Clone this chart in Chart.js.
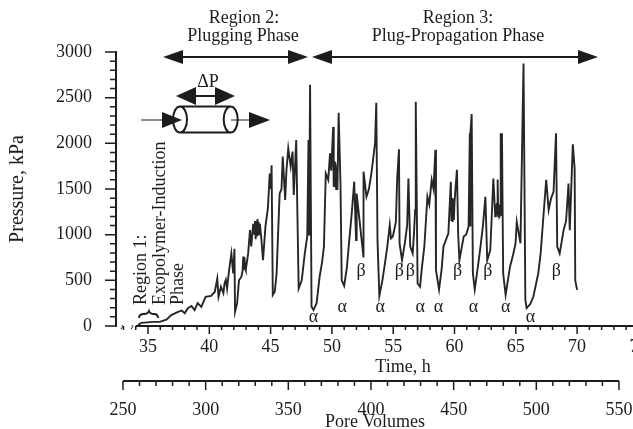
<!DOCTYPE html>
<html>
<head>
<meta charset="utf-8">
<title>Pressure vs time</title>
<script src="https://cdn.jsdelivr.net/npm/chart.js@4"></script>
<style>
html, body { margin: 0; background: #fff; overflow: hidden; width: 633px; height: 429px; }
canvas { display: block; }
</style>
</head>
<body>
<canvas id="grafico" width="660" height="429"></canvas>
<script>
const timeHours = [
  34.2,34.45,34.95,35.45,35.95,36.5,36.9,37.15,37.45,37.75,38.0,38.25,38.55,38.8,39.05,39.35,39.7,40.15,
  40.45,40.65,40.75,40.95,41.15,41.25,41.35,41.45,41.6,41.8,41.95,42.05,42.1,
  42.27,42.42,42.62,42.72,42.77,42.82,42.87,42.92,42.97,43.17,43.32,43.42,
  43.58,43.68,43.73,43.78,43.83,43.88,43.93,43.98,44.03,44.08,44.13,44.18,44.23,44.38,44.58,44.78,44.93,45.03,45.08,45.18,
  45.34,45.49,45.59,45.74,45.89,45.99,46.19,46.29,46.44,46.64,46.79,46.89,47.09,47.19,47.29,47.54,47.79,47.99,48.09,48.14,48.19,48.22,48.34,
  48.5,48.75,49.0,49.2,49.35,49.5,49.7,49.85,49.95,50.1,50.15,50.2,50.25,50.3,50.35,50.4,50.45,50.55,50.7,50.8,51.0,
  51.22,51.37,51.62,51.82,51.97,52.02,52.57,52.58,52.82,53.02,53.22,53.52,53.62,53.72,53.87,54.12,54.32,54.52,54.72,54.82,54.97,55.22,55.32,55.47,55.52,55.72,
  55.94,56.14,56.24,56.39,56.59,56.69,56.79,56.84,56.99,57.19,57.34,57.54,57.79,57.94,58.14,58.29,58.44,58.49,58.74,
  58.95,59.1,59.5,59.7,59.75,59.8,59.85,59.9,59.95,60.0,60.05,60.2,60.3,60.4,60.75,60.95,61.15,61.25,61.27,61.3,61.4,61.5,61.65,
  61.92,62.12,62.32,62.52,62.67,62.92,63.17,63.27,63.32,63.37,63.42,63.47,63.52,63.57,63.62,63.67,63.72,63.77,63.82,63.87,63.97,64.17,
  64.53,64.78,64.98,65.08,65.38,65.63,65.78,65.88,66.18,66.43,66.83,67.03,67.23,67.48,67.68,67.88,68.08,68.28,68.38,68.58,
  68.9,69.1,69.3,69.4,69.65,69.8,69.85,70.0
];
const pressureKpa = [
  10,35,40,45,45,70,120,135,155,170,140,195,220,175,250,210,320,330,
  375,520,320,430,360,470,505,410,595,795,575,845,155,
  250,500,540,610,760,620,750,630,610,795,1050,870,
  1120,1000,1150,950,1130,980,1170,1000,1140,1010,1120,1040,980,720,1090,1290,1670,1500,1760,340,
  375,575,940,1450,1500,1855,1380,1700,1945,1745,1910,1435,2035,1200,410,500,795,980,2035,1000,2035,2640,210,
  175,250,540,700,870,1670,1600,1890,1700,2180,1525,1800,1520,1780,1500,1750,1490,2335,1560,500,440,
  640,870,1235,1580,940,1450,760,1690,1415,1500,1670,2000,2445,940,330,500,680,870,1105,960,980,1140,1600,1935,905,720,
  900,1105,1615,870,795,1000,1270,2455,465,430,640,870,1415,1330,1600,1500,1930,610,400,
  620,870,1015,1580,1150,1400,1140,1380,1160,1350,1450,1710,1000,720,980,1000,1090,2110,1100,2110,2320,575,400,
  660,870,1100,1415,720,830,1615,1340,1200,1330,1210,1340,1605,1200,1330,1200,1215,2110,1300,2110,575,340,
  650,780,905,1140,905,2875,285,195,240,320,575,800,1160,1600,1270,1400,1470,2110,870,795,
  1050,1150,1560,1050,1990,1725,500,395
];
const alphaTimes = [48.5, 50.85, 53.95, 57.2, 58.7, 61.55, 64.17, 66.2];
const alphaPressures = [95, 210, 210, 210, 210, 210, 210, 95];
const betaTimes = [52.37, 55.5, 56.4, 60.25, 62.72, 68.3];
const betaPressures = [595, 595, 595, 595, 595, 595];
const timeLabels = [35, 40, 45, 50, 55, 60, 65, 70, 75];
const pressureLabels = [0, 500, 1000, 1500, 2000, 2500, 3000];
const poreLabels = [250, 300, 350, 400, 450, 500, 550];

const FONTE = '"Liberation Serif", "Times New Roman", serif';
const TINTA = '#1c1c1c';
const PX_POR_HORA = 12.26;
const PX_POR_PV = 1.6533;

// seta cheia, ponta em (xTip, y)
function ponta(ctx, xTip, y, dir, comp, alt) {
  ctx.beginPath();
  ctx.moveTo(xTip, y);
  ctx.lineTo(xTip - dir * comp, y - alt);
  ctx.lineTo(xTip - dir * comp, y + alt);
  ctx.closePath();
  ctx.fill();
}

function textoVertical(ctx, str, x, yBase) {
  ctx.save();
  ctx.translate(x, yBase);
  ctx.rotate(-Math.PI / 2);
  ctx.textAlign = 'left';
  ctx.fillText(str, 0, 0);
  ctx.restore();
}

const anotacoes = {
  id: 'anotacoes',
  // a largura final da area muda com os rotulos, entao fecha a escala aqui
  afterLayout(chart) {
    const { x, pv } = chart.scales;
    x.max = x.min + x.width / PX_POR_HORA;
    x.configure();
    pv.max = pv.min + pv.width / PX_POR_PV;
    pv.configure();
  },
  afterDraw(chart) {
    const { ctx, scales } = chart;
    const sx = scales.x, sy = scales.y, sp = scales.pv;
    ctx.save();
    ctx.strokeStyle = TINTA;
    ctx.fillStyle = TINTA;

    // eixos e marcas
    const y0 = sy.getPixelForValue(0);
    ctx.lineWidth = 2;
    ctx.beginPath();
    ctx.moveTo(sx.getPixelForValue(34), y0);
    ctx.lineTo(660, y0);
    ctx.moveTo(sp.getPixelForValue(250), sp.top + 5);
    ctx.lineTo(sp.getPixelForValue(550), sp.top + 5);
    ctx.stroke();

    ctx.lineWidth = 1.5;
    ctx.beginPath();
    sx.ticks.forEach(t => {
      const px = sx.getPixelForValue(t.value);
      ctx.moveTo(px, y0);
      ctx.lineTo(px, y0 + (timeLabels.includes(t.value) ? 8 : 4));
    });
    sp.ticks.forEach(t => {
      if (t.value < 250 || t.value > 550) return;
      const px = sp.getPixelForValue(t.value);
      ctx.moveTo(px, sp.top + 5);
      ctx.lineTo(px, sp.top + 5 + (poreLabels.includes(t.value) ? 9 : 5));
    });
    sy.ticks.forEach(t => {
      const py = sy.getPixelForValue(t.value);
      ctx.moveTo(sy.right, py);
      ctx.lineTo(sy.right - (pressureLabels.includes(t.value) ? 11 : 6), py);
    });
    ctx.stroke();

    // quebra do eixo
    ctx.lineWidth = 1;
    [122, 132].forEach(bx => {
      ctx.beginPath();
      ctx.moveTo(bx - 1, y0 + 3);
      ctx.quadraticCurveTo(bx + 2, y0, bx, y0 - 1);
      ctx.stroke();
    });

    ctx.font = '18px ' + FONTE;
    ctx.textAlign = 'center';
    ctx.textBaseline = 'middle';

    // titulos dos eixos de baixo
    ctx.fillText('Time, h', 403, 367);
    ctx.fillText('Pore Volumes', 375, 422);

    // regioes
    ctx.fillText('Region 2:', 244, 18);
    ctx.fillText('Plugging Phase', 243, 36);
    ctx.fillText('Region 3:', 458, 18);
    ctx.fillText('Plug-Propagation Phase', 458, 36);

    ctx.lineWidth = 2;
    ctx.beginPath();
    ctx.moveTo(175, 57); ctx.lineTo(296, 57);
    ctx.moveTo(324, 57); ctx.lineTo(586, 57);
    ctx.stroke();
    ponta(ctx, 163, 57, -1, 20, 7);
    ponta(ctx, 308, 57, 1, 20, 7);
    ponta(ctx, 312, 57, -1, 20, 7);
    ponta(ctx, 598, 57, 1, 20, 7);

    // desenho do testemunho
    ctx.fillText('ΔP', 208, 82);
    ctx.beginPath();
    ctx.moveTo(190, 96); ctx.lineTo(222, 96);
    ctx.stroke();
    ponta(ctx, 176, 96, -1, 20, 9);
    ponta(ctx, 235, 96, 1, 20, 9);

    ctx.lineWidth = 2;
    ctx.beginPath();
    ctx.ellipse(180, 119.5, 7, 13, 0, 0, Math.PI * 2);
    ctx.moveTo(237.7, 119.5);
    ctx.ellipse(230.7, 119.5, 7, 13, 0, 0, Math.PI * 2);
    ctx.moveTo(180, 106.5); ctx.lineTo(231, 106.5);
    ctx.moveTo(180, 132.5); ctx.lineTo(231, 132.5);
    ctx.stroke();
    ctx.lineWidth = 1;
    ctx.beginPath();
    ctx.moveTo(141, 120); ctx.lineTo(165, 120);
    ctx.moveTo(231, 120); ctx.lineTo(252, 120);
    ctx.stroke();
    ponta(ctx, 182, 120, 1, 20, 8);
    ponta(ctx, 270, 120, 1, 21, 8);

    // regiao 1 na vertical
    textoVertical(ctx, 'Region 1:', 141, 305);
    textoVertical(ctx, 'Exopolymer-Induction', 160, 305);
    textoVertical(ctx, 'Phase', 178, 305);

    // chave
    ctx.lineWidth = 1.8;
    ctx.beginPath();
    ctx.moveTo(139, 318);
    ctx.quadraticCurveTo(139, 314, 144, 314);
    ctx.quadraticCurveTo(148, 314, 149, 311);
    ctx.quadraticCurveTo(150, 314, 154, 314);
    ctx.quadraticCurveTo(158, 314, 158, 318);
    ctx.stroke();

    // alfa e beta
    alphaTimes.forEach((t, i) => {
      ctx.fillText('α', sx.getPixelForValue(t), sy.getPixelForValue(alphaPressures[i]));
    });
    betaTimes.forEach((t, i) => {
      ctx.fillText('β', sx.getPixelForValue(t), sy.getPixelForValue(betaPressures[i]));
    });
    ctx.restore();
  }
};

Chart.defaults.font.family = FONTE;
Chart.defaults.font.size = 18;
Chart.defaults.color = TINTA;

new Chart(document.getElementById('grafico').getContext('2d'), {
  type: 'line',
  data: {
    datasets: [{
      label: 'Pressure',
      data: timeHours.map((t, i) => ({ x: t, y: pressureKpa[i] })),
      borderColor: '#262626',
      borderWidth: 1.9,
      pointRadius: 0,
      xAxisID: 'x',
      yAxisID: 'y'
    }]
  },
  options: {
    responsive: false,
    animation: false,
    layout: { autoPadding: false, padding: { top: 52, left: 0, right: 0, bottom: 0 } },
    plugins: { legend: { display: false }, tooltip: { enabled: false } },
    scales: {
      x: {
        type: 'linear',
        position: 'bottom',
        weight: 0,
        min: 32.39,
        max: 76.19,
        grid: { display: false },
        border: { display: false },
        afterFit: s => { s.height = 50; },
        ticks: {
          stepSize: 1,
          includeBounds: false,
          autoSkip: false,
          maxRotation: 0,
          padding: 2,
          callback: v => timeLabels.includes(v) ? String(v) : ''
        }
      },
      pv: {
        type: 'linear',
        axis: 'x',
        position: 'bottom',
        weight: 1,
        min: 245.77,
        max: 570.6,
        grid: { display: false },
        border: { display: false },
        afterFit: s => { s.height = 53; },
        ticks: {
          stepSize: 10,
          includeBounds: false,
          autoSkip: false,
          maxRotation: 0,
          padding: 15,
          callback: v => poreLabels.includes(v) ? String(v) : ''
        }
      },
      y: {
        type: 'linear',
        min: 0,
        max: 3000,
        grid: { display: false },
        border: { display: true, color: TINTA, width: 2 },
        afterFit: s => { s.width = 116; },
        title: { display: true, text: 'Pressure, kPa', font: { size: 20 }, padding: { top: 6, bottom: 0 } },
        ticks: {
          stepSize: 100,
          autoSkip: false,
          padding: 16,
          callback: v => pressureLabels.includes(v) ? String(v) : ''
        }
      }
    }
  },
  plugins: [anotacoes]
});
</script>
</body>
</html>
